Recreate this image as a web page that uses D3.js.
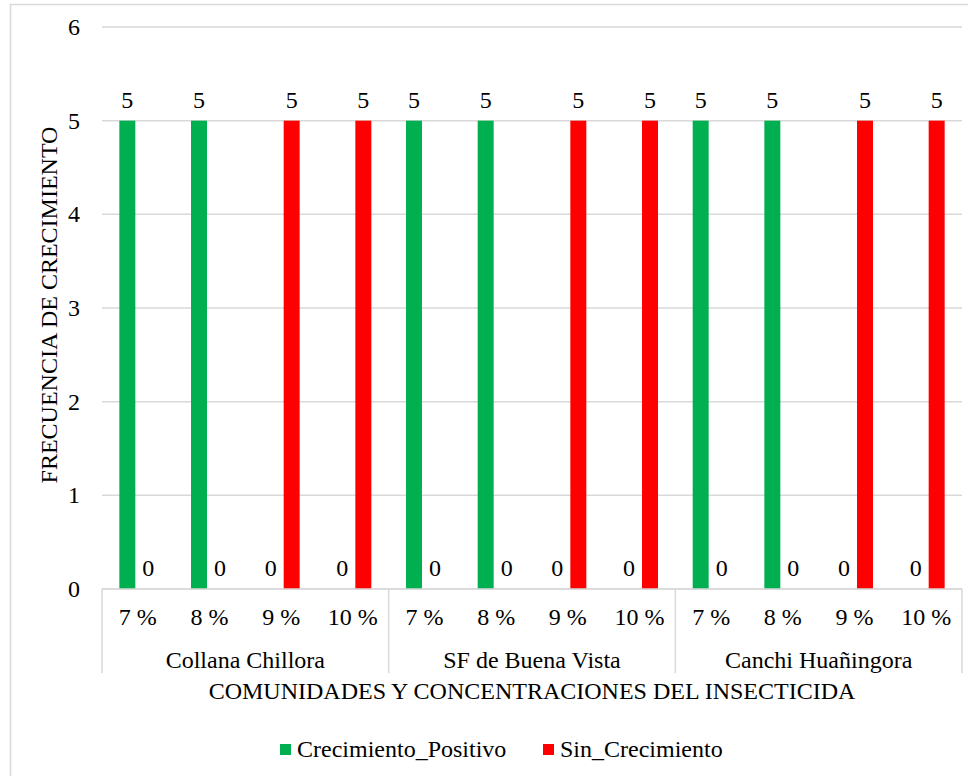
<!DOCTYPE html>
<html><head><meta charset="utf-8">
<script src="https://cdn.jsdelivr.net/npm/d3@7"></script>
<style>body{margin:0;background:#fff}svg{display:block}text{font-family:"Liberation Serif","Times New Roman",serif;fill:#000}</style>
</head><body>
<svg id="c" width="968" height="776"></svg>
<script>
const groups = ["Collana Chillora", "SF de Buena Vista", "Canchi Huañingora"];
const concentrations = ["7 %", "8 %", "9 %", "10 %"];
const seriesNames = ["Crecimiento_Positivo", "Sin_Crecimiento"];
const positivo = [5, 5, 0, 0, 5, 5, 0, 0, 5, 5, 0, 0];
const sinCrecimiento = [0, 0, 5, 5, 0, 0, 5, 5, 0, 0, 5, 5];
const yTicks = [0, 1, 2, 3, 4, 5, 6];
const colors = ["#00B050", "#FF0000"];

(function () {
const svg = d3.select("#c");
const pLeft = 102, pRight = 962, pTop = 27, pBottom = 589;
const fs = 24;

svg.append("rect").attr("x", 10.5).attr("y", 4.5).attr("width", 970).attr("height", 800)
  .attr("fill", "none").attr("stroke", "#d9d9d9").attr("stroke-width", 1.5);

const cats = [];
groups.forEach(g => concentrations.forEach(c => cats.push({g, c, key: g + "|" + c})));

const x = d3.scaleBand().domain(cats.map(d => d.key)).range([pLeft, pRight]).padding(0);
const y = d3.scaleLinear().domain([0, 6]).range([pBottom, pTop]);
const barW = x.bandwidth() * 0.223;
const gap = x.bandwidth() * 0.035;

// gridlines
svg.append("g").selectAll("line").data(yTicks).join("line")
  .attr("x1", pLeft).attr("x2", pRight).attr("y1", d => y(d)).attr("y2", d => y(d))
  .attr("stroke", "#d9d9d9").attr("stroke-width", 1.5);

// y tick labels
svg.append("g").selectAll("text").data(yTicks).join("text")
  .attr("x", 80).attr("y", d => y(d) + 8).attr("text-anchor", "end")
  .attr("font-size", fs).text(d => d);

// bars
const series = [positivo, sinCrecimiento];
series.forEach((vals, si) => {
  const gS = svg.append("g");
  const xOff = si === 0 ? -barW - gap : gap;
  gS.selectAll("rect").data(cats).join("rect")
    .attr("x", d => x(d.key) + x.bandwidth() / 2 + xOff)
    .attr("width", barW)
    .attr("y", (d, i) => y(vals[i]))
    .attr("height", (d, i) => y(0) - y(vals[i]))
    .attr("fill", colors[si]);
  gS.selectAll("text").data(cats).join("text")
    .attr("x", d => x(d.key) + x.bandwidth() / 2 + xOff + barW / 2)
    .attr("y", (d, i) => y(vals[i]) - 13)
    .attr("text-anchor", "middle").attr("font-size", fs)
    .text((d, i) => vals[i]);
});

// x axis line
svg.append("line").attr("x1", pLeft).attr("x2", pRight).attr("y1", pBottom).attr("y2", pBottom)
  .attr("stroke", "#d9d9d9").attr("stroke-width", 1.5);

// group separators
const groupEdges = [0, 4, 8, 12].map(i => i < 12 ? x(cats[i].key) : pRight);
svg.append("g").selectAll("line").data(groupEdges).join("line")
  .attr("x1", d => d).attr("x2", d => d).attr("y1", pBottom).attr("y2", 673)
  .attr("stroke", "#d9d9d9").attr("stroke-width", 1.5);

// category labels
svg.append("g").selectAll("text").data(cats).join("text")
  .attr("x", d => x(d.key) + x.bandwidth() / 2).attr("y", 625)
  .attr("text-anchor", "middle").attr("font-size", fs).text(d => d.c);

// group labels
svg.append("g").selectAll("text").data(groups).join("text")
  .attr("x", (d, i) => (groupEdges[i] + groupEdges[i + 1]) / 2).attr("y", 668)
  .attr("text-anchor", "middle").attr("font-size", fs).text(d => d);

// axis titles
svg.append("text").attr("x", 532).attr("y", 699).attr("text-anchor", "middle")
  .attr("font-size", fs).text("COMUNIDADES Y CONCENTRACIONES DEL INSECTICIDA");
svg.append("text").attr("transform", "translate(57,305) rotate(-90)").attr("text-anchor", "middle")
  .attr("font-size", fs).text("FRECUENCIA DE CRECIMIENTO");

// legend
const legend = [{name: seriesNames[0], x: 280}, {name: seriesNames[1], x: 543}];
legend.forEach((l, i) => {
  svg.append("rect").attr("x", l.x).attr("y", 744).attr("width", 11).attr("height", 11).attr("fill", colors[i]);
  svg.append("text").attr("x", l.x + 17).attr("y", 757).attr("font-size", fs).text(l.name);
});
})();
</script>
</body></html>
